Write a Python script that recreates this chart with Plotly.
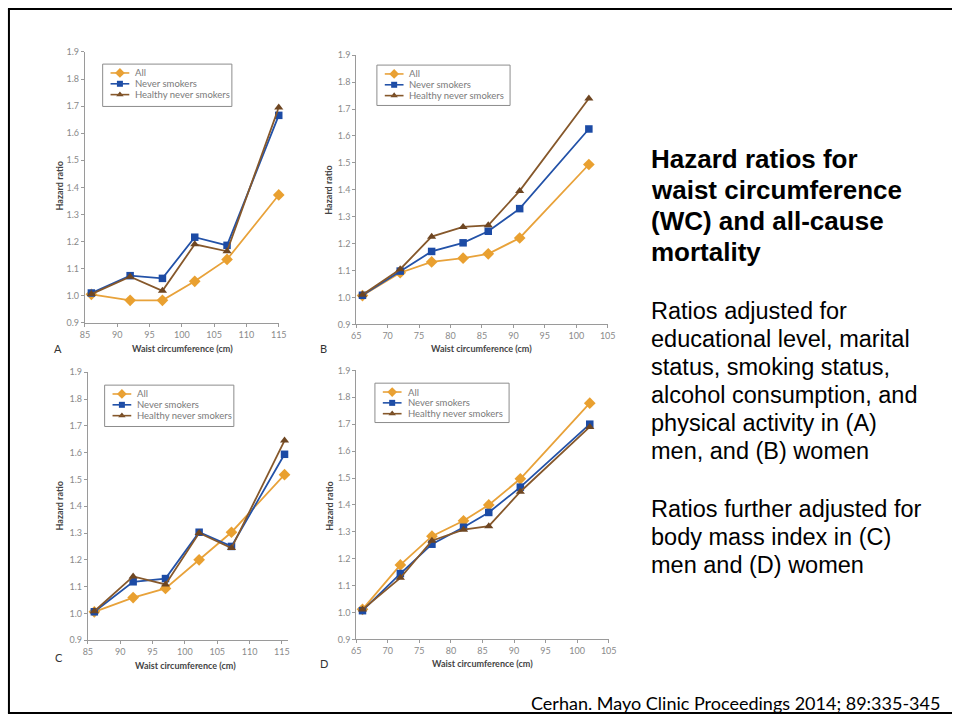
import plotly.graph_objects as go

W, H = 960, 721

# ---------------- data ----------------
series_names = ["All", "Never smokers", "Healthy never smokers"]

A_x = [86, 92, 97, 102, 107, 115]
A_all = [1.005, 0.983, 0.983, 1.053, 1.134, 1.372]
A_never = [1.010, 1.074, 1.064, 1.216, 1.186, 1.666]
A_healthy = [1.006, 1.070, 1.018, 1.190, 1.164, 1.695]

B_x = [66, 72, 77, 82, 86, 91, 102]
B_all = [1.007, 1.092, 1.132, 1.146, 1.162, 1.221, 1.494]
B_never = [1.008, 1.098, 1.171, 1.203, 1.246, 1.330, 1.626]
B_healthy = [1.010, 1.105, 1.226, 1.262, 1.268, 1.396, 1.739]

C_x = [86, 92, 97, 102.2, 107.2, 115.4]
C_all = [1.006, 1.059, 1.093, 1.200, 1.303, 1.518]
C_never = [1.006, 1.118, 1.130, 1.303, 1.250, 1.594]
C_healthy = [1.008, 1.138, 1.108, 1.300, 1.244, 1.645]

D_x = [66, 72, 77, 82, 86, 91, 102]
D_all = [1.012, 1.177, 1.284, 1.341, 1.400, 1.497, 1.778]
D_never = [1.007, 1.145, 1.254, 1.317, 1.372, 1.466, 1.700]
D_healthy = [1.011, 1.129, 1.267, 1.308, 1.321, 1.449, 1.690]

x_tick_A = [85, 90, 95, 100, 105, 110, 115]
x_tick_B = [65, 70, 75, 80, 85, 90, 95, 100, 105]
y_ticks = [0.9, 1.0, 1.1, 1.2, 1.3, 1.4, 1.5, 1.6, 1.7, 1.8, 1.9]

title_lines = ["Hazard ratios for", "waist circumference", "(WC) and all-cause", "mortality"]
para1 = ["Ratios adjusted for", "educational level, marital", "status, smoking status,",
         "alcohol consumption, and", "physical activity in (A)", "men, and (B) women"]
para2 = ["Ratios further adjusted for", "body mass index in (C)", "men and (D) women"]
citation = "Cerhan. Mayo Clinic Proceedings 2014; 89:335-345"

# ---------------- styles ----------------
colors = ["#E8A23A", "#2352A8", "#86582B"]
marker_colors = ["#E9A030", "#1C4BA5", "#6E4622"]
symbols = ["diamond", "square", "triangle-up"]
msizes = [9, 7.5, 8]
tick_font = dict(family="Lato", size=9, color="#8a8a8a")
axis_col = "#9a9a9a"


def fx(px):
    return px / W


def fy(py):
    return 1 - py / H


panels = [
    dict(x=A_x, ys=[A_all, A_never, A_healthy], xr=[85, 115], xt=x_tick_A,
         xd=(81, 277.5), yd=(46.7, 321.7), leg=(99, 59, 230, 102),
         letter=("A", 54, 348), xtitle=(180, 348), ytitle=(55, 183)),
    dict(x=B_x, ys=[B_all, B_never, B_healthy], xr=[65, 105], xt=x_tick_B,
         xd=(356, 611), yd=(50, 323.3), leg=(377, 60, 512, 101),
         letter=("B", 323, 348), xtitle=(483, 348), ytitle=(328, 187)),
    dict(x=C_x, ys=[C_all, C_never, C_healthy], xr=[85, 116], xt=x_tick_A,
         xd=(84, 287.3), yd=(372, 644), leg=(101, 385, 232, 427),
         letter=("C", 55, 662), xtitle=(183, 670), ytitle=(55, 508)),
    dict(x=D_x, ys=[D_all, D_never, D_healthy], xr=[65, 105], xt=x_tick_B,
         xd=(356, 612), yd=(370, 643.3), leg=(375, 383, 511, 423),
         letter=("D", 323, 668), xtitle=(484, 668), ytitle=(329, 508)),
]

fig = go.Figure()
shapes = []
annotations = []
layout_axes = {}

for i, p in enumerate(panels):
    n = i + 1
    xa = "x" if n == 1 else f"x{n}"
    ya = "y" if n == 1 else f"y{n}"
    for k in range(3):
        fig.add_trace(go.Scatter(
            x=p["x"], y=p["ys"][k], xaxis=xa, yaxis=ya, mode="lines+markers",
            name=series_names[k], showlegend=False,
            line=dict(color=colors[k], width=1.8),
            marker=dict(symbol=symbols[k], size=msizes[k], color=marker_colors[k],
                        line=dict(width=0)),
            cliponaxis=False))
    xkey = "xaxis" if n == 1 else f"xaxis{n}"
    ykey = "yaxis" if n == 1 else f"yaxis{n}"
    layout_axes[xkey] = dict(
        domain=[fx(p["xd"][0]), fx(p["xd"][1])], range=p["xr"], anchor=ya,
        tickvals=p["xt"], ticktext=[str(t) for t in p["xt"]],
        showline=True, linecolor=axis_col, linewidth=1, ticks="outside",
        ticklen=3, tickcolor=axis_col, showgrid=False, zeroline=False,
        tickfont=tick_font, fixedrange=True)
    layout_axes[ykey] = dict(
        domain=[fy(p["yd"][1]), fy(p["yd"][0])], range=[0.9, 1.9], anchor=xa,
        tickvals=y_ticks, ticktext=[f"{t:.1f}" for t in y_ticks],
        showline=True, linecolor=axis_col, linewidth=1, ticks="outside",
        ticklen=3, tickcolor=axis_col, showgrid=False, zeroline=False,
        tickfont=tick_font, fixedrange=True)

    L, lx, ly = p["letter"]
    annotations.append(dict(text=L, x=fx(lx), y=fy(ly), xref="paper", yref="paper",
                            showarrow=False, xanchor="center", yanchor="middle",
                            font=dict(family="Lato", size=11, color="#333333")))
    annotations.append(dict(text="<b>Waist circumference (cm)</b>", x=fx(p["xtitle"][0]),
                            y=fy(p["xtitle"][1]), xref="paper", yref="paper",
                            showarrow=False, xanchor="center", yanchor="middle",
                            font=dict(family="Lato", size=9, color="#444444")))
    annotations.append(dict(text="<b>Hazard ratio</b>", x=fx(p["ytitle"][0]),
                            y=fy(p["ytitle"][1]), xref="paper", yref="paper",
                            showarrow=False, xanchor="center", yanchor="middle",
                            textangle=-90,
                            font=dict(family="Lato", size=9, color="#444444")))
    bx0, by0, bx1, by1 = p["leg"]
    shapes.append(dict(type="rect", xref="paper", yref="paper",
                       x0=fx(bx0), x1=fx(bx1), y0=fy(by1), y1=fy(by0),
                       line=dict(color="#8c8c8c", width=1), fillcolor="rgba(0,0,0,0)"))
    for k in range(3):
        yy = by0 + 9 + 11 * k
        shapes.append(dict(type="line", xref="paper", yref="paper",
                           x0=fx(bx0 + 8), x1=fx(bx0 + 27), y0=fy(yy), y1=fy(yy),
                           line=dict(color=colors[k], width=1.6)))
        annotations.append(dict(text=series_names[k], x=fx(bx0 + 31), y=fy(yy),
                                xref="paper", yref="paper", showarrow=False,
                                xanchor="left", yanchor="middle",
                                font=dict(family="Lato", size=9.5, color="#7a7a7a")))

# legend glyph markers on a full-page overlay axis in pixel units
for k in range(3):
    gx, gy = [], []
    for p in panels:
        bx0, by0, bx1, by1 = p["leg"]
        gx.append(bx0 + 17.5)
        gy.append(by0 + 9 + 11 * k)
    fig.add_trace(go.Scatter(x=gx, y=gy, xaxis="x5", yaxis="y5", mode="markers",
                             showlegend=False, hoverinfo="skip",
                             marker=dict(symbol=symbols[k], size=msizes[k] - 1.5,
                                         color=marker_colors[k], line=dict(width=0))))
layout_axes["xaxis5"] = dict(domain=[0, 1], range=[0, W], visible=False, fixedrange=True, anchor="y5")
layout_axes["yaxis5"] = dict(domain=[0, 1], range=[H, 0], visible=False, fixedrange=True, anchor="x5")

# right-side text
for j, t in enumerate(title_lines):
    annotations.append(dict(text=f"<b>{t}</b>", x=fx(653), y=fy(155 + 31.5 * j),
                            xref="paper", yref="paper", showarrow=False,
                            xanchor="left", yanchor="middle",
                            font=dict(family="Liberation Sans", size=26, color="#000000")))
for j, t in enumerate(para1):
    annotations.append(dict(text=t, x=fx(653), y=fy(310 + 28.4 * j),
                            xref="paper", yref="paper", showarrow=False,
                            xanchor="left", yanchor="middle",
                            font=dict(family="Liberation Sans", size=23.5, color="#000000")))
for j, t in enumerate(para2):
    annotations.append(dict(text=t, x=fx(653), y=fy(511 + 28.2 * j),
                            xref="paper", yref="paper", showarrow=False,
                            xanchor="left", yanchor="middle",
                            font=dict(family="Liberation Sans", size=23.5, color="#000000")))

annotations.append(dict(text=citation, x=fx(950), y=fy(708), xref="paper", yref="paper",
                        showarrow=False, xanchor="right", yanchor="middle",
                        font=dict(family="Lato", size=18, color="#000000")))

# slide border (left, top, bottom)
border = dict(color="#000000", width=2)
shapes.append(dict(type="line", xref="paper", yref="paper", x0=fx(4), x1=fx(4),
                   y0=fy(3), y1=fy(718), line=border))
shapes.append(dict(type="line", xref="paper", yref="paper", x0=fx(3), x1=1,
                   y0=fy(3), y1=fy(3), line=border))
shapes.append(dict(type="line", xref="paper", yref="paper", x0=fx(3), x1=1,
                   y0=fy(718), y1=fy(718), line=border))

fig.update_layout(
    width=W, height=H, margin=dict(l=0, r=0, t=0, b=0),
    paper_bgcolor="white", plot_bgcolor="rgba(0,0,0,0)",
    showlegend=False, shapes=shapes, annotations=annotations,
    hovermode=False, **layout_axes)

post = (
    "document.body.style.margin='0';"
    "document.body.style.padding='0';"
    "document.body.style.overflow='hidden';"
    "document.documentElement.style.overflow='hidden';"
)
fig.write_html("out.html", config=dict(displayModeBar=False), post_script=post)
